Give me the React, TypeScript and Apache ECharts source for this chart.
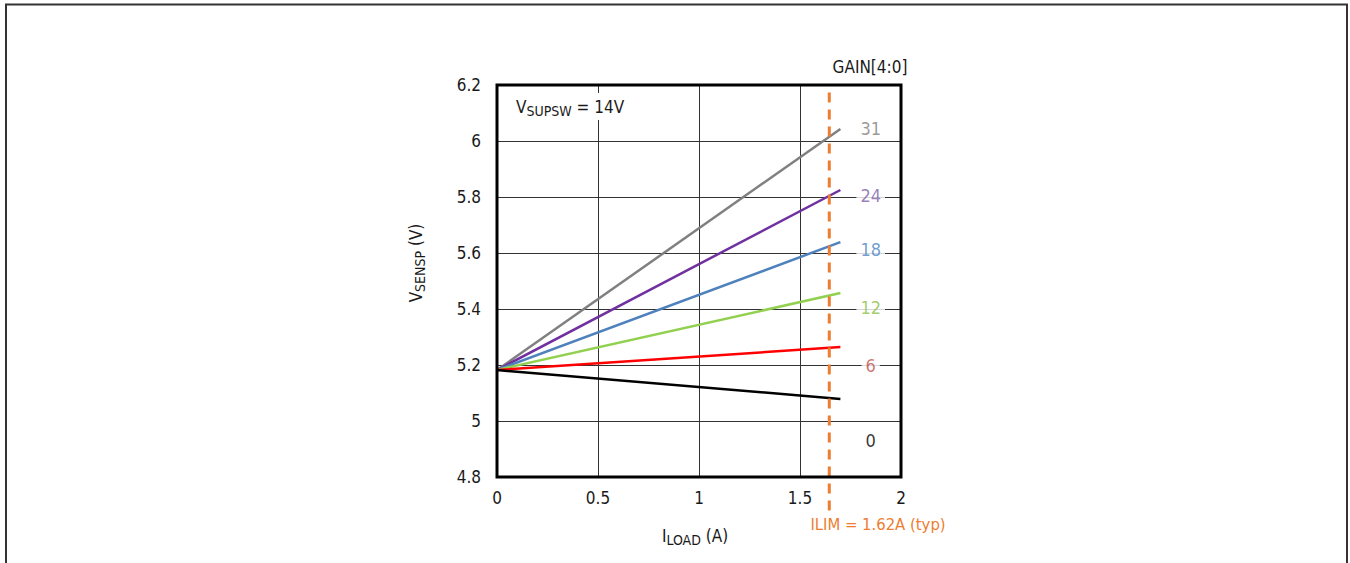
import React, { useEffect, useRef } from "react";
import * as echarts from "echarts";

const xLoad = [0, 1.7];
const gainNames = ["31", "24", "18", "12", "6", "0"];
const gainStart = [5.182, 5.182, 5.182, 5.182, 5.182, 5.182];
const gainEnd = [6.043, 5.825, 5.639, 5.457, 5.264, 5.079];
const lineColors = ["#808080", "#7030A0", "#4F81BD", "#92D050", "#FF0000", "#000000"];
const labelColors = ["#808080", "#7F5FA8", "#4A84C4", "#8DC04A", "#C0504D", "#000000"];
const labelX = 1.85;
const labelY = [6.043, 5.807, 5.614, 5.407, 5.2, 4.929];
const ilimX = 1.645;
const ilimY = [4.68, 6.2];
const xTicks = { min: 0, max: 2, interval: 0.5 };
const yTicks = { min: 4.8, max: 6.2, interval: 0.2 };

const FONT = "'Liberation Sans Narrow', 'DejaVu Sans Condensed', 'Liberation Sans', sans-serif";
const FS = 17;
const SUB = 14;
const TXT = "#1a1a1a";

export default function App() {
  const ref = useRef<HTMLDivElement>(null);
  useEffect(() => {
    if (!ref.current) return;
    const chart = echarts.init(ref.current, undefined, { renderer: "svg" });
    const lineSeries = gainNames.map((n, i) => ({
      name: "GAIN " + n,
      type: "line",
      data: xLoad.map((x, k) => [x, k === 0 ? gainStart[i] : gainEnd[i]]),
      showSymbol: false,
      lineStyle: { color: lineColors[i], width: 2.5 },
      z: 3,
    }));
    chart.setOption({
      animation: false,
      textStyle: { fontFamily: FONT },
      grid: {
        left: 497,
        top: 85,
        width: 404,
        height: 392,
        show: true,
        borderColor: "#000",
        borderWidth: 3,
        backgroundColor: "transparent",
        z: 10,
      },
      xAxis: {
        type: "value",
        ...xTicks,
        axisLine: { show: false },
        axisTick: { show: false },
        axisLabel: { color: TXT, fontSize: FS, margin: 12, fontFamily: FONT },
        splitLine: { show: true, lineStyle: { color: "#333", width: 1 } },
        name: "{v|I}{s|LOAD}{v| (A)}",
        nameLocation: "middle",
        nameGap: 47,
        nameTextStyle: {
          padding: [0, 8, 0, 0],
          rich: {
            v: { fontSize: FS, color: TXT, fontFamily: FONT },
            s: { fontSize: SUB, color: TXT, fontFamily: FONT, padding: [9, 0, 0, 0] },
          },
        },
      },
      yAxis: {
        type: "value",
        ...yTicks,
        axisLine: { show: false },
        axisTick: { show: false },
        axisLabel: {
          color: TXT,
          fontSize: FS,
          margin: 16,
          fontFamily: FONT,
          formatter: (v: number) => String(+v.toFixed(1)),
        },
        splitLine: { show: true, lineStyle: { color: "#333", width: 1 } },
        name: "{v|V}{s|SENSP}{v| (V)}",
        nameLocation: "middle",
        nameRotate: 90,
        nameGap: 70,
        nameTextStyle: {
          padding: [0, 0, 0, 36],
          rich: {
            v: { fontSize: FS, color: TXT, fontFamily: FONT },
            s: { fontSize: SUB, color: TXT, fontFamily: FONT, padding: [9, 0, 0, 0] },
          },
        },
      },
      series: [
        ...lineSeries,
        {
          name: "ILIM",
          type: "line",
          data: ilimY.map((y) => [ilimX, y]),
          showSymbol: false,
          clip: false,
          lineStyle: { color: "#ED7D31", width: 3, type: [10, 7] },
          z: 4,
        },
        {
          name: "labels",
          type: "scatter",
          symbolSize: 0,
          data: gainNames.map((n, i) => ({
            value: [labelX, labelY[i]],
            name: n,
            label: { color: labelColors[i] },
          })),
          label: {
            show: true,
            position: "inside",
            formatter: (p: any) => p.name,
            fontSize: FS + 1,
            fontFamily: FONT,
            backgroundColor: "#fff",
            padding: [1, 4],
          },
          z: 6,
        },
      ],
      graphic: [
        {
          type: "rect",
          shape: { x: 6, y: 4.5, width: 1341, height: 620 },
          style: { fill: "none", stroke: "#333", lineWidth: 2 },
          silent: true,
        },
        {
          type: "text",
          x: 514,
          y: 93,
          z: 20,
          style: {
            text: "{v|V}{s|SUPSW}{v| = 14V}",
            backgroundColor: "#fff",
            padding: [2, 2],
            rich: {
              v: { fontSize: FS, fill: TXT, fontFamily: FONT },
              s: { fontSize: SUB, fill: TXT, fontFamily: FONT, padding: [9, 0, 0, 0] },
            },
          },
        },
        {
          type: "text",
          x: 870,
          y: 67,
          style: {
            text: "GAIN[4:0]",
            fontSize: FS,
            fill: TXT,
            fontFamily: FONT,
            align: "center",
            verticalAlign: "middle",
          },
        },
        {
          type: "text",
          x: 878,
          y: 524,
          style: {
            text: "ILIM = 1.62A (typ)",
            fontSize: FS - 0.5,
            fill: "#ED7D31",
            fontFamily: FONT,
            align: "center",
            verticalAlign: "middle",
          },
        },
      ],
    });
    return () => chart.dispose();
  }, []);
  return (
    <div
      ref={ref}
      style={{ position: "fixed", left: 0, top: 0, width: 1350, height: 563, background: "#fff" }}
    />
  );
}
